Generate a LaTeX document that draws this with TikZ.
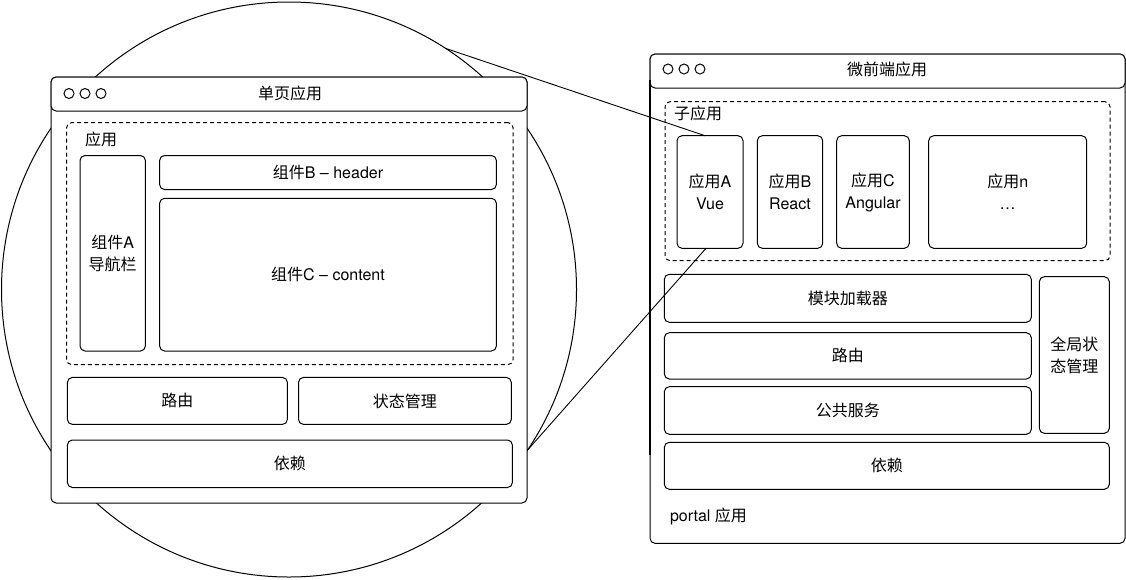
\documentclass[tikz,border=0pt]{standalone}
\usepackage{fontspec}
\setmainfont{TeX Gyre Heros}
\newfontfamily\cjk{Noto Sans CJK SC}
\newcommand\zh[1]{{\cjk #1}}
\begin{document}
\begin{tikzpicture}[x=1pt,y=-1pt,
  every node/.style={font=\fontsize{16}{22}\selectfont, inner sep=0pt, outer sep=0pt},
  box/.style={draw, line width=1pt, rounded corners=5pt, fill=white, anchor=north west, align=center},
  dashbox/.style={draw, line width=1pt, rounded corners=5pt, dash pattern=on 4pt off 3pt, anchor=north west},
  win/.style={draw, line width=1pt, rounded corners=5pt, fill=white, anchor=north west},
  dot/.style={draw, circle, line width=1pt, minimum size=10pt},
  link/.style={draw, line width=0.9pt}
]
\useasboundingbox (0,0) rectangle (1126,579);
\fill[white] (0,0) rectangle (1126,579);

% zoom circle
\node[circle, draw, line width=1pt, minimum size=575pt] (zoomc) at (289,289.5) {};

% ---------- left window ----------
\node[win, minimum width=476pt, minimum height=426pt] (lw) at (51,77) {};
\node[win, minimum width=476pt, minimum height=34pt] (lt) at (51,77) {};
\node[dot] (ld1) at (69,93.5) {};
\node[dot] (ld2) at (85,93.5) {};
\node[dot] (ld3) at (101,93.5) {};
\node (ltitle) at (290,93.5) {\zh{单页应用}};
\node[dashbox, minimum width=446.4pt, minimum height=242pt] (la) at (66.6,122.6) {};
\node (lalabel) at (101,139) {\zh{应用}};
\node[box, minimum width=65.4pt, minimum height=195.5pt] (ca) at (80,155.5) {\zh{组件}A\\\zh{导航栏}};
\node[box, minimum width=336.8pt, minimum height=34pt] (cb) at (159.6,155.5) {\zh{组件}B – header};
\node[box, minimum width=336.8pt, minimum height=152.7pt] (cc) at (159.6,198.3) {\zh{组件}C – content};
\node[box, minimum width=220pt, minimum height=47pt] (lr) at (67.4,377.4) {\zh{路由}};
\node[box, minimum width=212.8pt, minimum height=47pt] (ls) at (298.5,377.4) {\zh{状态管理}};
\node[box, minimum width=445pt, minimum height=47.5pt] (ldep) at (67.4,440) {\zh{依赖}};

% ---------- right window ----------
\node[win, minimum width=475pt, minimum height=489.3pt] (rw) at (650,54) {};
\node[win, minimum width=475pt, minimum height=34pt] (rt) at (650,54) {};
\draw[line width=1.8pt] ([yshift=-26pt]rw.north west) -- ([yshift=-401pt]rw.north west);
\node[dot] (rd1) at (668,69) {};
\node[dot] (rd2) at (684,69) {};
\node[dot] (rd3) at (700,69) {};
\node (rtitle) at (887,69) {\zh{微前端应用}};
\node[dashbox, minimum width=445pt, minimum height=159pt] (rs) at (665,101.7) {};
\node (rslabel) at (698,113) {\zh{子应用}};
\node[box, minimum width=66pt, minimum height=112.6pt] (aa) at (677,135.7) {\zh{应用}A\\Vue};
\node[box, minimum width=65.4pt, minimum height=112.6pt] (ab) at (757.3,135.7) {\zh{应用}B\\React};
\node[box, minimum width=72.6pt, minimum height=112.6pt] (ac) at (836.7,135.7) {\zh{应用}C\\Angular};
\node[box, minimum width=158pt, minimum height=112.6pt] (an) at (928.7,135.7) {\zh{应用}n\\…};
\node[box, minimum width=367pt, minimum height=48pt] (ml) at (664.3,274.3) {\zh{模块加载器}};
\node[box, minimum width=367pt, minimum height=46.3pt] (rr) at (664.3,332.7) {\zh{路由}};
\node[box, minimum width=367pt, minimum height=47.6pt] (ps) at (664.3,386.7) {\zh{公共服务}};
\node[box, minimum width=70pt, minimum height=156.6pt] (gs) at (1039.3,276.7) {\zh{全局状}\\\zh{态管理}};
\node[box, minimum width=445pt, minimum height=47pt] (rdep) at (664.3,442.3) {\zh{依赖}};
\node[anchor=west] (portal) at (670,516.7) {portal \zh{应用}};

% ---------- zoom connectors ----------
\draw[link] (zoomc.57.25) -- ([xshift=-5pt]aa.north);
\draw[link] (zoomc.-34) -- ([xshift=-4pt]aa.south);
\end{tikzpicture}
\end{document}
